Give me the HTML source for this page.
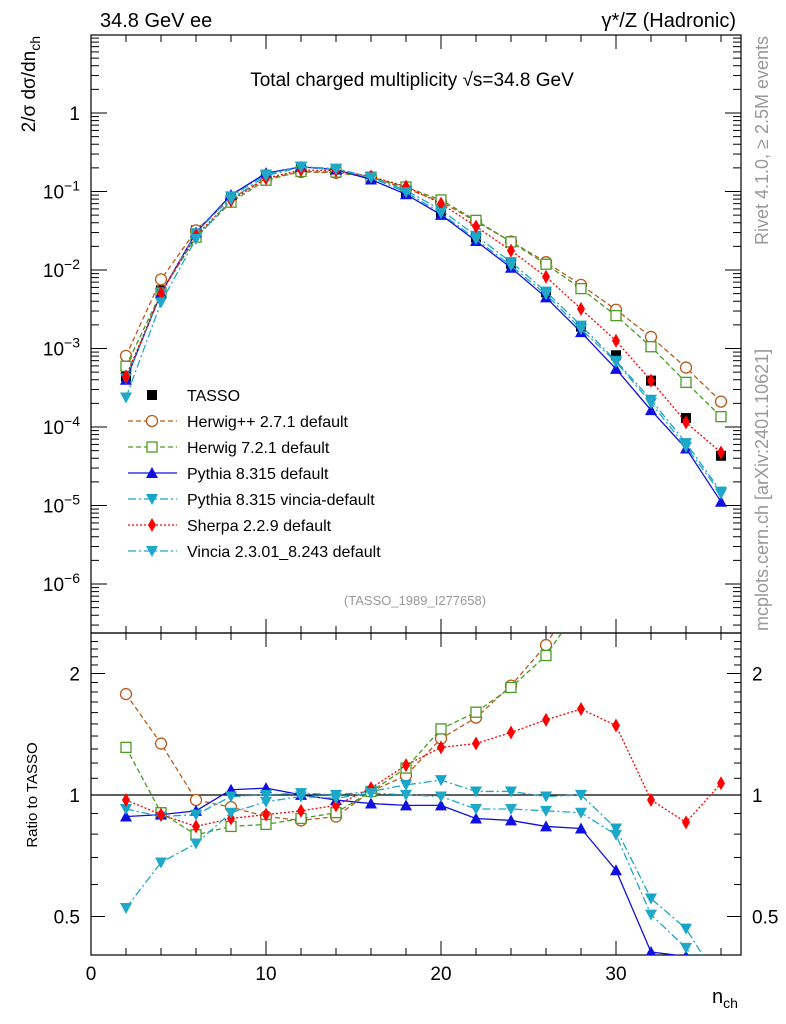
<!DOCTYPE html>
<html><head><meta charset="utf-8"><style>
body{margin:0;background:#fff}
svg{display:block;font-family:"Liberation Sans",sans-serif}
</style></head><body>
<svg id="c" width="786" height="1024" xmlns="http://www.w3.org/2000/svg"></svg>
<script>
const nch=[2,4,6,8,10,12,14,16,18,20,22,24,26,28,30,32,34,36];
const tasso=[4.4e-4,5.5e-3,3.2e-2,8.5e-2,0.16,0.2,0.19,0.145,0.095,0.052,0.026,0.012,5.2e-3,1.9e-3,8.2e-4,3.9e-4,1.3e-4,4.3e-5];
const rHerwigpp=[1.83,1.38,1.0,0.96,0.91,0.89,0.91,1.05,1.15,1.42,1.6,1.92,2.42,3.4,3.8,3.6,4.4,4.9];
const rHerwig7=[1.35,0.93,0.82,0.86,0.87,0.9,0.93,1.05,1.2,1.5,1.65,1.9,2.28,3.05,3.2,2.7,2.85,3.15];
const rPythia=[0.91,0.92,0.94,1.06,1.07,1.03,1.0,0.98,0.97,0.97,0.9,0.89,0.86,0.85,0.67,0.42,0.41,0.26];
const rPyVincia=[0.95,0.91,0.92,1.02,1.03,1.04,1.03,1.05,1.09,1.12,1.05,1.05,1.02,1.03,0.85,0.57,0.48,0.35];
const rSherpa=[1.0,0.92,0.86,0.9,0.92,0.94,0.97,1.07,1.22,1.35,1.38,1.47,1.58,1.68,1.53,1.0,0.88,1.1];
const rVincia=[0.54,0.70,0.78,0.93,0.99,1.02,1.01,1.04,1.03,1.02,0.95,0.95,0.94,0.93,0.82,0.52,0.43,0.33];
const xTicks=[0,10,20,30];
const yDecades=[0,-1,-2,-3,-4,-5,-6];
const rTicks=[2,1,0.5];

const NS="http://www.w3.org/2000/svg";
const svg=document.getElementById('c');
const L=91,R=741,T=35,M=633,B=955;
const X=v=>L+v*17.5;
const Y=v=>113-Math.log10(v)*78.5;
const YR=v=>795-Math.log2(v)*121.5;
function el(tag,a,p){const e=document.createElementNS(NS,tag);for(const k in a)e.setAttribute(k,a[k]);(p||svg).appendChild(e);return e;}
function txt(s,a,p){const e=el('text',a,p);e.textContent=s;return e;}

const defs=el('defs',{});
const c1=el('clipPath',{id:'cm'},defs);el('rect',{x:L,y:T,width:R-L,height:M-T},c1);
const c2=el('clipPath',{id:'cr'},defs);el('rect',{x:L,y:M,width:R-L,height:B-M},c2);

const f1=el('rect',{x:L,y:T,width:R-L,height:M-T,fill:'none',stroke:'#000','stroke-width':1.2});

const f2=el('rect',{x:L,y:M,width:R-L,height:B-M,fill:'none',stroke:'#000','stroke-width':1.2});


const gx=el('g',{stroke:'#000','stroke-width':1});

for(let v=0;v<=37;v+=2){const maj=v%10===0;const l=maj?14:7;
 [[T,1],[M,-1],[M,1],[B,-1]].forEach(([y,d])=>el('line',{x1:X(v),x2:X(v),y1:y,y2:y+d*l},gx));}
xTicks.forEach(v=>{const t=txt(v,{x:X(v),y:980,'font-size':19,'text-anchor':'middle'});
 });

const gy=el('g',{stroke:'#000','stroke-width':1});

for(let d=-7;d<=1;d++){for(let m=1;m<=9;m++){const v=m*Math.pow(10,d);const y=Y(v);if(y<T||y>M)continue;
 const l=m===1?16:8;el('line',{x1:L,x2:L+l,y1:y,y2:y},gy);el('line',{x1:R,x2:R-l,y1:y,y2:y},gy);}}
yDecades.forEach(d=>{const y=Y(Math.pow(10,d));
 let t;
 if(d===0){t=txt('1',{x:80,y:y+7,'font-size':19,'text-anchor':'end'});}
 else{t=txt('',{x:80,y:y+7,'font-size':19,'text-anchor':'end'});
  const a=el('tspan',{},t);a.textContent='10';const b=el('tspan',{dy:-8,'font-size':14},t);b.textContent=String(d).replace('-','−');}
 });

const gr=el('g',{stroke:'#000','stroke-width':1});

for(let v=0.4;v<=2.5;v+=0.1){const y=YR(v);if(y<M||y>B)continue;const maj=[0.5,1,2].some(q=>Math.abs(q-v)<1e-6);const l=maj?14:7;
 el('line',{x1:L,x2:L+l,y1:y,y2:y},gr);el('line',{x1:R,x2:R-l,y1:y,y2:y},gr);}
rTicks.forEach(v=>{const y=YR(v);
 const a=txt(v,{x:80,y:y+7,'font-size':19,'text-anchor':'end'});
 const b=txt(v,{x:752,y:y+7,'font-size':19}); });
const one=el('line',{x1:L,x2:R,y1:YR(1),y2:YR(1),stroke:'#000','stroke-width':1.2});


function marker(type,x,y,col,p){
 if(type==='sq')return el('rect',{x:x-5,y:y-5,width:10,height:10,fill:col},p);
 if(type==='osq')return el('rect',{x:x-5,y:y-5,width:10,height:10,fill:'#fff',stroke:col,'stroke-width':1.3},p);
 if(type==='oc')return el('circle',{cx:x,cy:y,r:5.5,fill:'#fff',stroke:col,'stroke-width':1.3},p);
 if(type==='tu')return el('polygon',{points:`${x-6},${y+5} ${x+6},${y+5} ${x},${y-6}`,fill:col},p);
 if(type==='td')return el('polygon',{points:`${x-6},${y-5} ${x+6},${y-5} ${x},${y+6}`,fill:col},p);
 if(type==='di')return el('polygon',{points:`${x},${y-7} ${x+4},${y} ${x},${y+7} ${x-4},${y}`,fill:col},p);
}
const series=[
 {name:'Herwig++ 2.7.1 default',r:rHerwigpp,col:'#b85c1c',m:'oc',dash:'5,3'},
 {name:'Herwig 7.2.1 default',r:rHerwig7,col:'#4a9a24',m:'osq',dash:'5,3'},
 {name:'Pythia 8.315 default',r:rPythia,col:'#1010e0',m:'tu',dash:''},
 {name:'Pythia 8.315 vincia-default',r:rPyVincia,col:'#18a6c8',m:'td',dash:'8,3,2,3'},
 {name:'Sherpa 2.2.9 default',r:rSherpa,col:'#ff0000',m:'di',dash:'2,2'},
 {name:'Vincia 2.3.01_8.243 default',r:rVincia,col:'#20a8c8',m:'td',dash:'8,3,2,3'}
];
const gt=el('g',{'clip-path':'url(#cm)'});

nch.forEach((n,i)=>marker('sq',X(n),Y(tasso[i]),'#000',gt));
series.forEach((s,k)=>{
 const g=el('g',{'clip-path':'url(#cm)'});
 
 const pts=nch.map((n,i)=>[X(n),Y(tasso[i]*s.r[i])]);
 el('polyline',{points:pts.map(p=>p.join(',')).join(' '),fill:'none',stroke:s.col,'stroke-width':1.3,'stroke-dasharray':s.dash},g);
 pts.forEach(p=>marker(s.m,p[0],p[1],s.col,g));
 const h=el('g',{'clip-path':'url(#cr)'});
 
 const rp=nch.map((n,i)=>[X(n),YR(s.r[i])+5]);
 el('polyline',{points:rp.map(p=>p.join(',')).join(' '),fill:'none',stroke:s.col,'stroke-width':1.3,'stroke-dasharray':s.dash},h);
 rp.forEach(p=>marker(s.m,p[0],p[1],s.col,h));
});

const lg=el('g',{});

marker('sq',152,395,'#000',lg);
txt('TASSO',{x:187,y:401,'font-size':16},lg);
series.forEach((s,k)=>{const y=421+26*k;
 const e=el('g',{},lg);
 el('line',{x1:128,x2:177,y1:y,y2:y,stroke:s.col,'stroke-width':1.3,'stroke-dasharray':s.dash},e);
 marker(s.m,152,y,s.col,e);
 txt(s.name,{x:187,y:y+6,'font-size':16},e);});

function lab(s,a,name){const t=txt(s,a);return t;}
lab('34.8 GeV ee',{x:100,y:27,'font-size':20},'energy-label');
lab('γ*/Z (Hadronic)',{x:736,y:27,'font-size':20,'text-anchor':'end'},'process-label');
lab('Total charged multiplicity √s=34.8 GeV',{x:412,y:86,'font-size':19,'text-anchor':'middle'},'plot-title');
lab('(TASSO_1989_I277658)',{x:415,y:605,'font-size':13,'text-anchor':'middle',fill:'#999'},'analysis-id');
const yl=lab('',{transform:'translate(35,36) rotate(-90)','font-size':19,'text-anchor':'end'},'y-axis-title');
const t1=el('tspan',{},yl);t1.textContent='2/σ   dσ/dn';const t2=el('tspan',{dy:5,'font-size':14},yl);t2.textContent='ch';
lab('Ratio to TASSO',{transform:'translate(37,795) rotate(-90)','font-size':15,'text-anchor':'middle'},'ratio-axis-title');
const xl=lab('',{x:712,y:1003,'font-size':20},'x-axis-title');
const x1=el('tspan',{},xl);x1.textContent='n';const x2=el('tspan',{dy:5,'font-size':14},xl);x2.textContent='ch';
lab('Rivet 4.1.0, ≥ 2.5M events',{transform:'translate(768,36) rotate(-90)','font-size':18,fill:'#999','text-anchor':'end'},'rivet-label');
lab('mcplots.cern.ch [arXiv:2401.10621]',{transform:'translate(768,631) rotate(-90)','font-size':18,fill:'#999'},'mcplots-label');
</script>
</body></html>
